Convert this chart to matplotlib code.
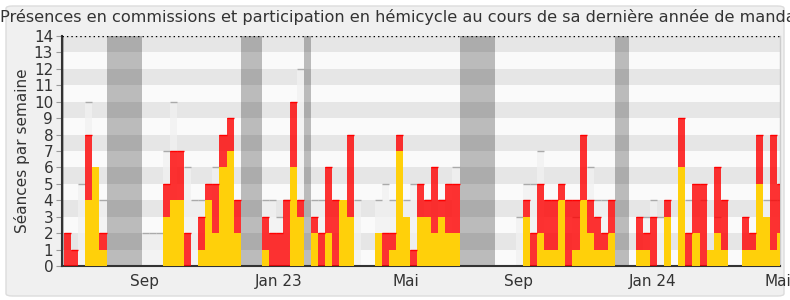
import numpy as np
import matplotlib
matplotlib.use("Agg")
import matplotlib.pyplot as plt
from matplotlib.patches import FancyBboxPatch

# une valeur par semaine (semaine 0 = debut juillet 2022)
hemicycle = [0, 0, 0, 4, 6, 1, 0, 0, 0, 0, 0, 0, 0, 0, 3, 4, 4, 0, 0, 1,
             4, 2, 6, 7, 2, 0, 0, 0, 1, 0, 0, 0, 6, 3, 0, 2, 0, 2, 0, 4,
             3, 0, 0, 0, 2, 0, 1, 7, 3, 0, 3, 3, 2, 3, 2, 2, 0, 0, 0, 0,
             0, 0, 0, 0, 0, 3, 0, 2, 1, 1, 4, 0, 1, 4, 2, 1, 1, 2, 0, 0,
             0, 1, 1, 0, 0, 3, 0, 6, 0, 2, 0, 1, 2, 1, 0, 0, 1, 1, 5, 3,
             1, 2]
commission = [2, 1, 0, 4, 0, 1, 0, 0, 0, 0, 0, 0, 0, 0, 2, 3, 3, 2, 0, 2,
              1, 3, 2, 2, 2, 0, 0, 0, 2, 2, 2, 4, 4, 1, 0, 1, 2, 4, 4, 0,
              5, 0, 0, 0, 0, 2, 1, 1, 0, 1, 2, 1, 4, 1, 3, 3, 0, 0, 0, 0,
              0, 0, 0, 0, 0, 1, 2, 3, 3, 3, 1, 4, 3, 4, 2, 2, 1, 2, 0, 0,
              0, 2, 1, 3, 0, 1, 0, 3, 2, 3, 5, 0, 4, 3, 0, 0, 2, 1, 3, 0,
              7, 3]
presence = [0, 0, 5, 10, 0, 4, 0, 0, 0, 0, 0, 2, 2, 2, 7, 10, 0, 6, 4, 4,
            0, 6, 0, 0, 0, 0, 0, 0, 4, 4, 3, 4, 0, 12, 0, 4, 4, 0, 0, 0,
            0, 4, 0, 0, 4, 5, 4, 0, 4, 5, 0, 4, 0, 4, 0, 6, 0, 0, 0, 0,
            0, 0, 0, 0, 3, 5, 5, 7, 0, 0, 0, 0, 3, 0, 6, 4, 4, 0, 0, 0,
            0, 0, 3, 4, 3, 0, 0, 0, 4, 0, 4, 0, 3, 0, 0, 0, 0, 0, 0, 4,
            4, 4]
# vacances parlementaires (debut, fin) en semaines
vacances = [(-1, 0), (6, 11), (25, 28), (34, 35), (56, 61), (78, 80)]
tick_pos = [11.4, 30.4, 48.4, 64.4, 83.4, 101.1]
tick_labels = ["Sep", "Jan 23", "Mai", "Sep", "Jan 24", "Mai"]

plt.rcParams['font.family'] = ['DejaVu Sans']

weeks = np.arange(len(hemicycle))
hemicycle = np.array(hemicycle)
commission = np.array(commission)
presence = np.array(presence)

fig = plt.figure(figsize=(7.9, 3.0), dpi=100, facecolor="white")
fig.patches.append(FancyBboxPatch((6/790, 4/300), 778/790, 290/300,
                                  boxstyle="round,pad=0,rounding_size=0.008",
                                  transform=fig.transFigure, facecolor="#f0f0f0",
                                  edgecolor="#dcdcdc", lw=1, zorder=-10))
ax = fig.add_axes([61.5/790, 1-266/300, (780-61.5)/790, 230/300])
ax.set_zorder(1)
ax.set_facecolor("#fafafa")

for k in range(14):
    ax.axhspan(k, k+1, color="#e6e6e6" if k % 2 else "#fafafa", lw=0, zorder=0)

for a, b in vacances:
    ax.axvspan(a, b, color="black", alpha=0.25, lw=0, zorder=1)

m = presence > 0
ax.bar(weeks[m], presence[m], width=1, align="edge", color="#f1f1f1", alpha=0.75, lw=0, zorder=2)
ax.hlines(presence[m], weeks[m], weeks[m]+1, color="#aaaaaa", lw=1, zorder=2.5)

ax.bar(weeks, hemicycle, width=1, align="edge", color="#ffd00a", lw=0, zorder=3)
ax.bar(weeks, commission, width=1, align="edge", bottom=hemicycle, color="#ff0000", alpha=0.8, lw=0, zorder=3)
m2 = commission > 0
ax.hlines((hemicycle+commission)[m2], weeks[m2], weeks[m2]+1, color="#ff0000", lw=1, zorder=3.5)

ax.axhline(14, color="black", ls=(0, (1, 2.2)), lw=1, zorder=4)

ax.set_xlim(-0.38, 101.4)
ax.set_ylim(0, 14)
ax.set_yticks(range(15))
ax.set_xticks(tick_pos)
ax.set_xticklabels(tick_labels)
ax.tick_params(axis="y", length=4, color="#999999", labelsize=11, labelcolor="#333333", pad=2)
ax.tick_params(axis="x", length=0, labelsize=11, labelcolor="#333333", pad=6)
ax.set_ylabel("Séances par semaine", fontsize=11, color="#333333", labelpad=3)

for s in ["left", "bottom"]:
    ax.spines[s].set_color("#333333")
    ax.spines[s].set_linewidth(1.5)
ax.spines["top"].set_visible(False)
ax.spines["right"].set_color("#cccccc")
ax.spines["right"].set_linewidth(1)

fig.text(0.507, 0.943, "Présences en commissions et participation en hémicycle au cours de sa dernière année de mandat",
         ha="center", va="center", fontsize=11.6, color="#333333")

fig.savefig("out.png", dpi=100)
